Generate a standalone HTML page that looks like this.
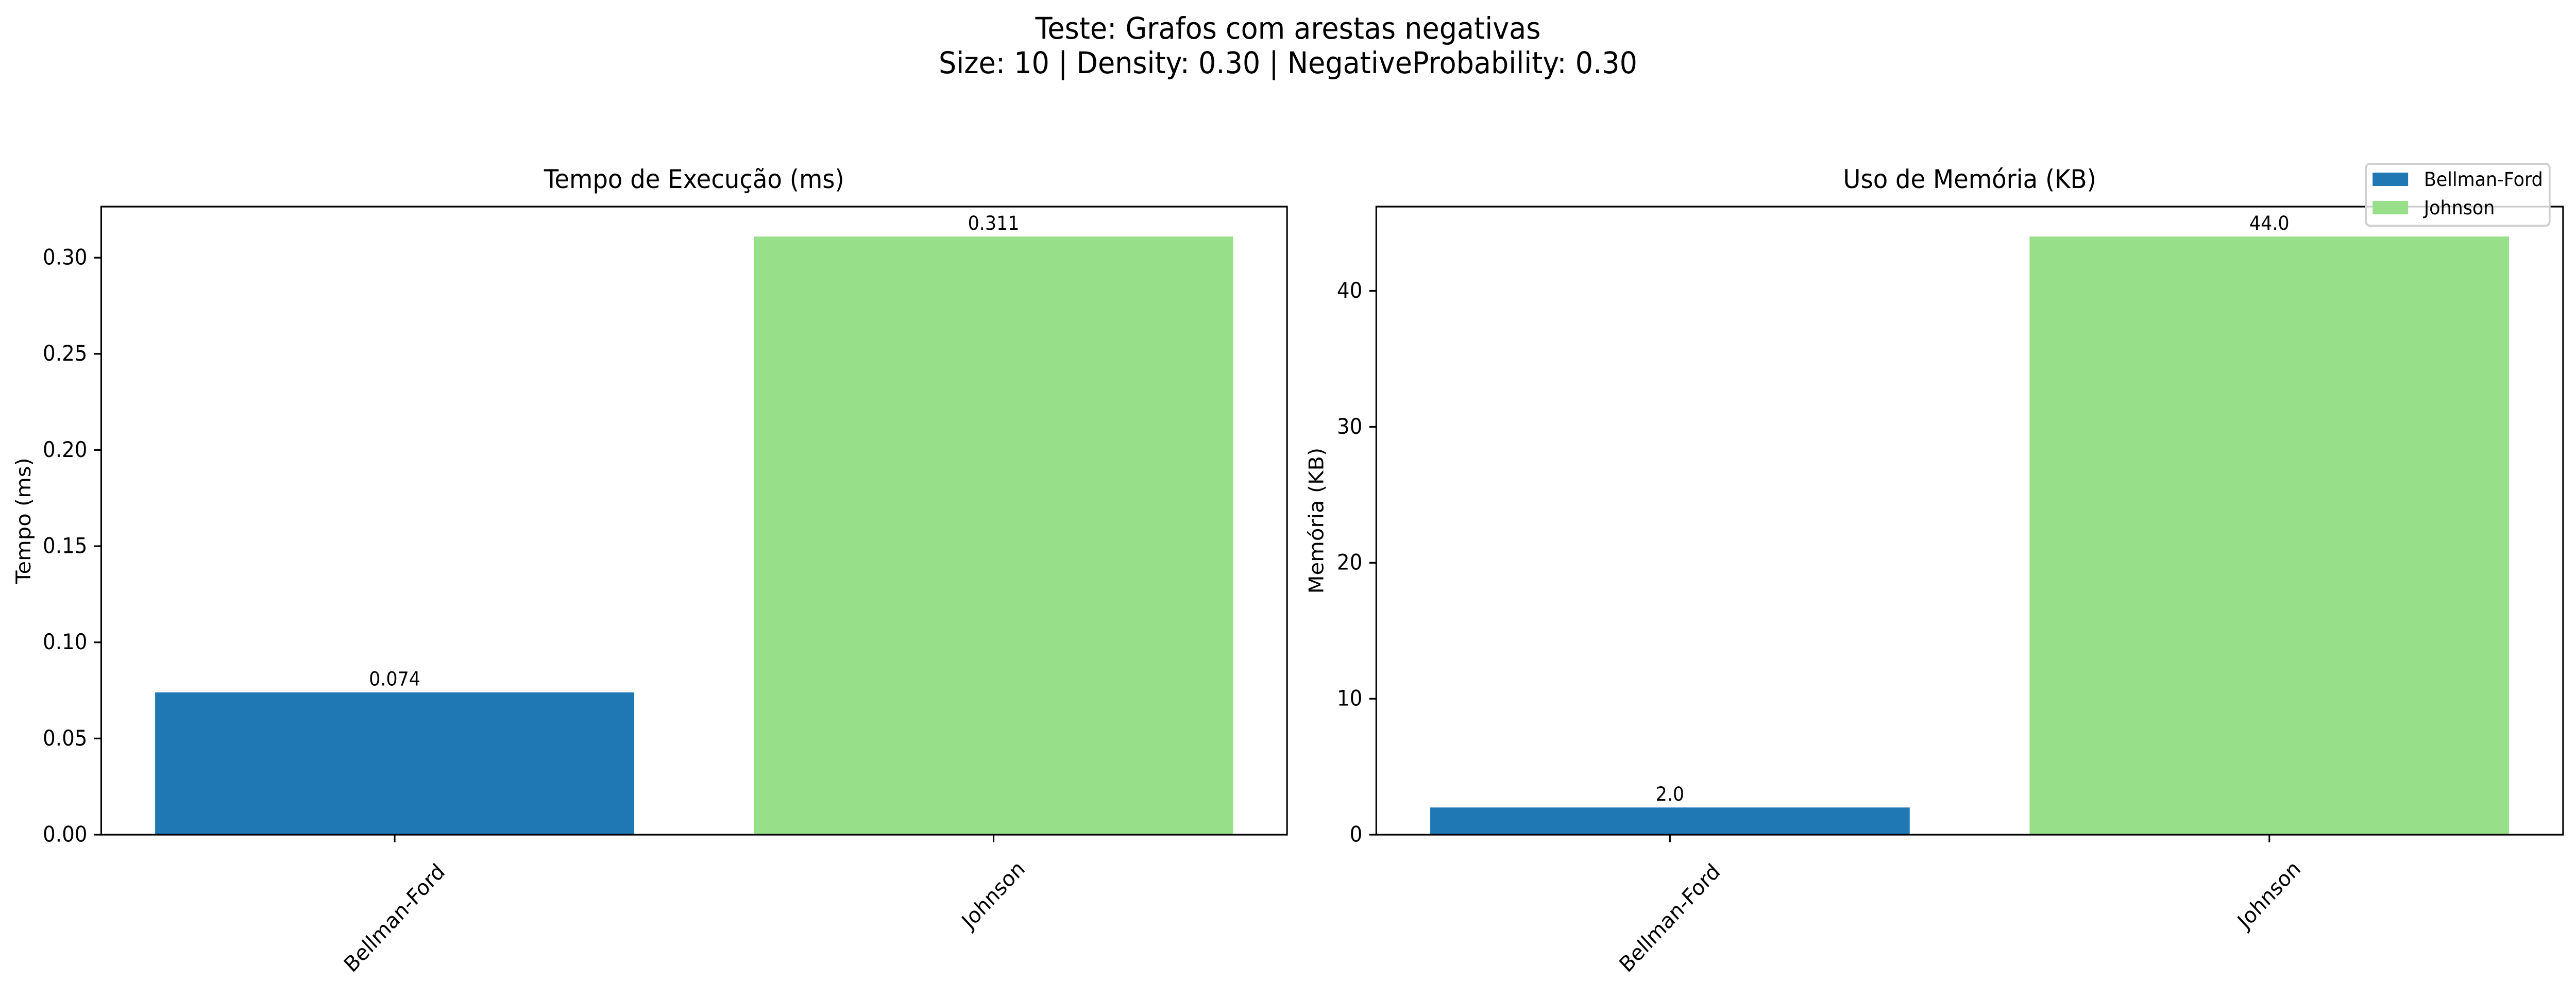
<!DOCTYPE html>
<html><head><meta charset="utf-8"><style>
html,body{margin:0;padding:0;background:#fff;width:100%;height:100%;overflow:hidden;}
svg{display:block;position:fixed;left:0;top:0;width:100vw;height:100vh;font-family:"DejaVu Sans","Liberation Sans",sans-serif;}
</style></head><body>
<svg id="fig" viewBox="0 0 5370 1904" preserveAspectRatio="none" xmlns="http://www.w3.org/2000/svg">
<rect x="0" y="0" width="5370" height="1904" fill="#fff"/>
<text x="2685" y="75" font-size="58" text-anchor="middle">Teste: Grafos com arestas negativas</text>
<text x="2685" y="142" font-size="58" text-anchor="middle">Size: 10 | Density: 0.30 | NegativeProbability: 0.30</text>
<g id="left"></g>
<g id="right"></g>
<g>
<rect x="4932" y="318" width="383" height="120" rx="8" fill="#fff" fill-opacity="0.8" stroke="#d0d0d0" stroke-width="4"/>
<rect x="4946" y="335" width="74" height="26" fill="#1f77b4"/>
<text x="5053" y="361" font-size="37.5">Bellman-Ford</text>
<rect x="4946" y="390" width="74" height="26" fill="#98df8a"/>
<text x="5053" y="416" font-size="37.5">Johnson</text>
</g>
</svg>
<script>
const categories = ["Bellman-Ford", "Johnson"];
const timeValues = [0.074, 0.311];
const memoryValues = [2.0, 44.0];
const timeTicks = [0.00, 0.05, 0.10, 0.15, 0.20, 0.25, 0.30];
const memoryTicks = [0, 10, 20, 30, 40];
const timeLabels = ["0.074", "0.311"];
const memoryLabels = ["2.0", "44.0"];
const barColors = ["#1f77b4", "#98df8a"];

const NS = "http://www.w3.org/2000/svg";
function mk(parent, tag, attrs, text) {
  const e = document.createElementNS(NS, tag);
  for (const k in attrs) e.setAttribute(k, attrs[k]);
  if (text !== undefined) e.textContent = text;
  parent.appendChild(e);
  return e;
}
function panel(gid, L, R, T, B, values, ticks, tickFmt, labels, title, ylabel, ylabelX, key) {
  const g = document.getElementById(gid);
  const ymax = Math.max(...values) * 1.05;
  const y = v => B - (v / ymax) * (B - T);
  const xmin = -0.49, xmax = categories.length - 1 + 0.49;
  const x = v => L + (v - xmin) / (xmax - xmin) * (R - L);
  values.forEach((v, i) => {
    const r = mk(g, "rect", {x: x(i - 0.4), y: y(v), width: x(i + 0.4) - x(i - 0.4), height: B - y(v), fill: barColors[i]});
    
    
    const t = mk(g, "text", {x: x(i), y: y(v) - 13, "font-size": 37.5, "text-anchor": "middle"}, labels[i]);
    
    
  });
  ticks.forEach(tv => {
    const tl = mk(g, "line", {x1: L - 14.6, x2: L, y1: y(tv), y2: y(tv), stroke: "#000", "stroke-width": 3.3});
    
    
    const tt = mk(g, "text", {x: L - 29, y: y(tv), "font-size": 41.7, "text-anchor": "end", "dominant-baseline": "central"}, tickFmt(tv));
    
    
  });
  categories.forEach((c, i) => {
    const tl = mk(g, "line", {x1: x(i), x2: x(i), y1: B, y2: B + 14.6, stroke: "#000", "stroke-width": 3.3});
    
    
    const t = mk(g, "text", {x: 0, y: 0, "font-size": 41.7, "text-anchor": "middle", "dominant-baseline": "central"}, c);
    
    
    const w = c.length * 25.5;
    const H = (w + 48) * Math.SQRT1_2;
    const cy = B + 29.2 + 8 + H / 2;
    t.setAttribute("transform", "translate(" + x(i) + "," + cy + ") rotate(-45)");
  });
  const fr = mk(g, "rect", {x: L, y: T, width: R - L, height: B - T, fill: "none", stroke: "#000", "stroke-width": 3.3});
  
  
  const ti = mk(g, "text", {x: (L + R) / 2, y: 365, "font-size": 50, "text-anchor": "middle"}, title);
  
  
  const yl = mk(g, "text", {x: 0, y: 0, "font-size": 41.7, "text-anchor": "middle", "dominant-baseline": "central", transform: "translate(" + ylabelX + "," + (T + B) / 2 + ") rotate(-90)"}, ylabel);
  
  
}
panel("left", 211, 2683, 401, 1620, timeValues, timeTicks, v => v.toFixed(2), timeLabels, "Tempo de Execução (ms)", "Tempo (ms)", 50, "time");
panel("right", 2869, 5343, 401, 1620, memoryValues, memoryTicks, v => String(v), memoryLabels, "Uso de Memória (KB)", "Memória (KB)", 2745, "memory");
</script>
</body></html>
